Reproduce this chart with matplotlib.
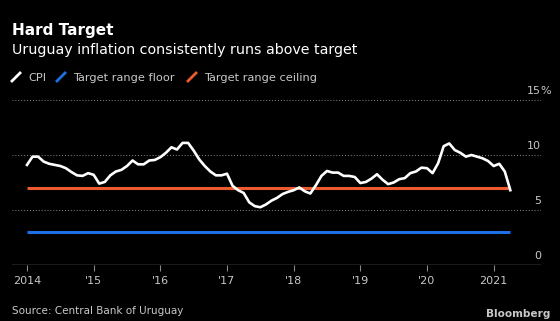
import numpy as np
import matplotlib
matplotlib.use("Agg")
import matplotlib.pyplot as plt
from matplotlib.lines import Line2D

# Uruguay annual CPI inflation, monthly, Jan 2014 -> Apr 2021
cpi = [9.1, 9.85, 9.85, 9.4, 9.2, 9.1, 9.0, 8.8, 8.45, 8.15, 8.1, 8.35,
       8.2, 7.4, 7.55, 8.15, 8.5, 8.65, 9.0, 9.5, 9.15, 9.15, 9.5, 9.55,
       9.8, 10.2, 10.7, 10.5, 11.1, 11.1, 10.4, 9.6, 9.0, 8.5, 8.15, 8.15,
       8.3, 7.2, 6.8, 6.55, 5.7, 5.35, 5.25, 5.5, 5.85, 6.1, 6.45, 6.65,
       6.8, 7.05, 6.7, 6.5, 7.25, 8.1, 8.55, 8.4, 8.4, 8.1, 8.1, 8.0,
       7.45, 7.55, 7.85, 8.25, 7.75, 7.35, 7.5, 7.8, 7.9, 8.35, 8.5, 8.85,
       8.8, 8.35, 9.25, 10.8, 11.05, 10.45, 10.2, 9.85, 10.0, 9.85, 9.7, 9.45,
       9.0, 9.2, 8.5, 6.8]
floor_val = 3
ceiling_val = 7
annees = [2014, 2015, 2016, 2017, 2018, 2019, 2020, 2021]
labels_annees = ["2014", "'15", "'16", "'17", "'18", "'19", "'20", "2021"]
y_ticks = [0, 5, 10, 15]

dates = 2014 + np.arange(len(cpi)) / 12

blanc = "white"
bleu = "#1f6fe6"
orange = "#ee5a2f"
gris = "#8a8a8a"
texte_gris = "#c8c8c8"

fig = plt.figure(figsize=(5.6, 3.21), dpi=100, facecolor="black")
ax = fig.add_axes([12 / 560, 1 - 265 / 321, 529 / 560, 165 / 321])
ax.set_facecolor("black")

ax.plot(dates, [floor_val] * len(dates), color=bleu, lw=2.2, solid_capstyle="butt")
ax.plot(dates, [ceiling_val] * len(dates), color=orange, lw=2.2, solid_capstyle="butt")
ax.plot(dates, cpi, color=blanc, lw=1.9, solid_joinstyle="round")

ax.set_xlim(2013.775, 2021.71)
ax.set_ylim(0, 15)

for v in y_ticks[1:]:
    ax.axhline(v, color=gris, lw=0.7, ls=(0, (1, 2)), zorder=0)
ax.axhline(0, color=gris, lw=1.0, zorder=0)

for sp in ax.spines.values():
    sp.set_visible(False)

ax.set_xticks(annees)
ax.set_xticklabels(labels_annees, color=texte_gris, fontsize=8)
ax.tick_params(axis="x", length=4, width=0.8, color=gris, pad=4)
ax.set_yticks([])

for v in y_ticks:
    ax.annotate(str(v), xy=(1, v), xycoords=("axes fraction", "data"),
                xytext=(0, 3), textcoords="offset points",
                ha="right", va="bottom", color=texte_gris, fontsize=8)
ax.annotate("%", xy=(1, 15), xycoords=("axes fraction", "data"),
            xytext=(-0.8, 3), textcoords="offset points",
            ha="left", va="bottom", color=texte_gris, fontsize=8)

# titres
fig.text(12 / 560, 1 - 35 / 321, "Hard Target", color="white", fontsize=11,
         fontweight="bold", ha="left", va="baseline")
fig.text(12 / 560, 1 - 54 / 321, "Uruguay inflation consistently runs above target",
         color="white", fontsize=10.3, ha="left", va="baseline")

# legende
legende = [(12, 28, blanc, "CPI"), (57, 73, bleu, "Target range floor"),
           (188, 204, orange, "Target range ceiling")]
for x0, xt, couleur, nom in legende:
    fig.add_artist(Line2D([x0 / 560, (x0 + 8) / 560], [1 - 81 / 321, 1 - 73 / 321],
                          color=couleur, lw=2, transform=fig.transFigure))
    fig.text(xt / 560, 1 - 81 / 321, nom, color=texte_gris, fontsize=8.2,
             ha="left", va="baseline")

fig.text(12 / 560, 1 - 314 / 321, "Source: Central Bank of Uruguay", color=texte_gris,
         fontsize=7.5, ha="left", va="baseline")
fig.text(550 / 560, 1 - 317 / 321, "Bloomberg", color=texte_gris, fontsize=7.6,
         fontweight="bold", ha="right", va="baseline")

plt.savefig("out.png", dpi=100, facecolor="black")
